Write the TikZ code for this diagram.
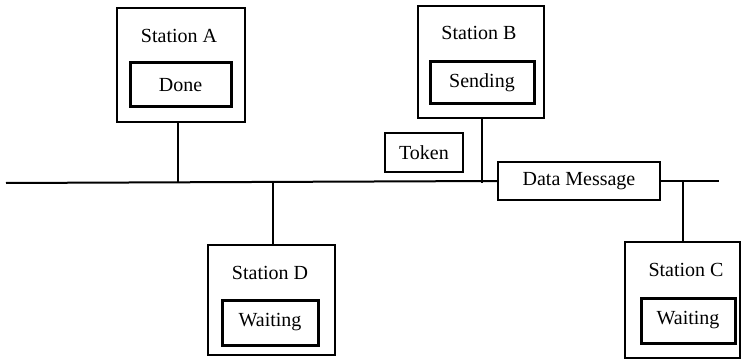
\documentclass[tikz,border=0pt]{standalone}
\usepackage{fontspec}
\setmainfont{Liberation Serif}
\begin{document}
\begin{tikzpicture}[x=1pt, y=-1pt,
  every node/.style={font=\fontsize{20}{22}\selectfont, inner sep=0pt},
  station/.style={draw, line width=2.2pt, rectangle},
  statebox/.style={draw, line width=3pt, rectangle},
  msgbox/.style={draw, line width=2.4pt, rectangle},
  wire/.style={line width=2pt}]
\useasboundingbox (0,0) rectangle (745,361);

% Station A
\node[station, minimum width=128pt, minimum height=114pt] (A) at (181,65) {};
\node (Alab) at (179,36) {Station A};
\node[statebox, minimum width=101pt, minimum height=44pt] (Astate) at (180.5,85) {Done};

% Station B
\node[station, minimum width=126pt, minimum height=112pt] (B) at (481,62) {};
\node (Blab) at (479,33) {Station B};
\node[statebox, minimum width=104pt, minimum height=42pt] (Bstate) at (482,83) {Sending};

% Station D
\node[station, minimum width=127pt, minimum height=110pt] (D) at (271.5,300) {};
\node (Dlab) at (270,273) {Station D};
\node[statebox, minimum width=96pt, minimum height=45pt] (Dstate) at (270,322.5) {Waiting};

% Station C
\node[station, minimum width=115pt, minimum height=116pt] (C) at (682.5,300) {};
\node (Clab) at (686,270) {Station C};
\node[statebox, minimum width=94pt, minimum height=45pt] (Cstate) at (688,320.5) {Waiting};

% Frames travelling on the ring
\node[msgbox, minimum width=78pt, minimum height=39pt] (token) at (424,152.5) {Token};
\node[msgbox, minimum width=162pt, minimum height=38pt] (data) at (579,181) {Data Message};

% Bus
\coordinate (busL) at (6,183);
\coordinate (busR) at (719,181);
\draw[wire] (busL) -- (data.west);
\draw[wire] (data.east) -- (busR);

% Drops from the bus to each station
\draw[wire] (A.south -| 178,0) -- (178,183);
\draw[wire] (B.south -| 482,0) -- (482,183);
\draw[wire] (273,183) -- (D.north -| 273,0);
\draw[wire] (683,181) -- (C.north -| 683,0);
\end{tikzpicture}
\end{document}
